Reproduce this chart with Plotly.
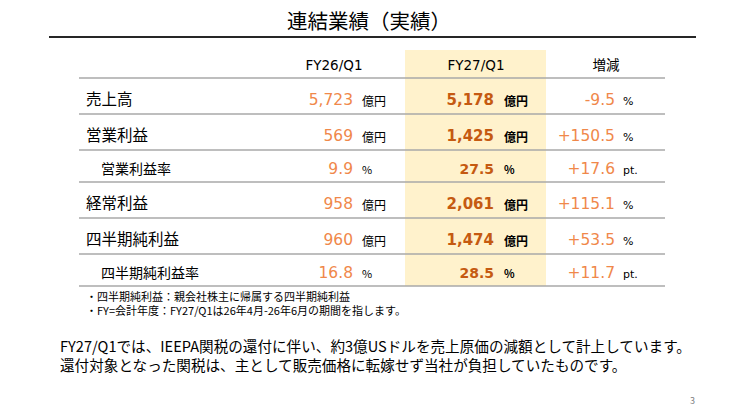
import plotly.graph_objects as go

# table data
categories = ["売上高", "営業利益", "営業利益率", "経常利益", "四半期純利益", "四半期純利益率"]
is_sub = [False, False, True, False, False, True]
fy26 = [5723, 569, 9.9, 958, 960, 16.8]
fy27 = [5178, 1425, 27.5, 2061, 1474, 28.5]
change = [-9.5, 150.5, 17.6, 115.1, 53.5, 11.7]
units = ["億円", "億円", "%", "億円", "億円", "%"]
change_units = ["%", "%", "pt.", "%", "%", "pt."]
headers = ["FY26/Q1", "FY27/Q1", "増減"]

title = "連結業績（実績）"
notes = ["・四半期純利益：親会社株主に帰属する四半期純利益",
         "・FY=会計年度：FY27/Q1は26年4月-26年6月の期間を指します。"]
comment = ["FY27/Q1では、IEEPA関税の還付に伴い、約3億USドルを売上原価の減額として計上しています。",
           "還付対象となった関税は、主として販売価格に転嫁せず当社が負担していたものです。"]

FONT = "Noto Sans CJK JP"
NUM_FONT = "DejaVu Sans, Noto Sans CJK JP"
ORANGE = "#F0884A"
DARK_ORANGE = "#C55A11"
GRID = "#A8A8A8"


def fmt_val(v, sub):
    return f"{v:.1f}" if sub else f"{v:,.0f}"


def fmt_chg(v):
    return f"{v:+.1f}"


# row geometry (pixel space, y down)
top = 78
bounds = [top]
for s in is_sub:
    bounds.append(bounds[-1] + (32 if s else 36))
row_y = [bounds[i] + (20 if s else 23) for i, s in enumerate(is_sub)]

fig = go.Figure()

# row labels
fig.add_trace(go.Scatter(
    x=[101 if s else 86 for s in is_sub], y=row_y, mode="text",
    text=categories, textposition="middle right",
    textfont=dict(family=FONT, size=[14 if s else 15.5 for s in is_sub], color="#000000"),
))

# FY26 values + units
fig.add_trace(go.Scatter(
    x=[353] * len(fy26), y=row_y, mode="text",
    text=[fmt_val(v, s) for v, s in zip(fy26, is_sub)], textposition="middle left",
    textfont=dict(family=NUM_FONT, size=15.5, color=ORANGE),
))
fig.add_trace(go.Scatter(
    x=[362] * len(units), y=[y + 1.5 for y in row_y], mode="text",
    text=units, textposition="middle right",
    textfont=dict(family=FONT, size=[11 if u == "%" else 12 for u in units], color="#000000"),
))

# FY27 values + units (bold)
fig.add_trace(go.Scatter(
    x=[494] * len(fy27), y=row_y, mode="text",
    text=[fmt_val(v, s) for v, s in zip(fy27, is_sub)], textposition="middle left",
    textfont=dict(family=NUM_FONT, size=[14 if s else 15 for s in is_sub], color=DARK_ORANGE, weight="bold"),
))
fig.add_trace(go.Scatter(
    x=[504] * len(units), y=[y + 1.5 for y in row_y], mode="text",
    text=units, textposition="middle right",
    textfont=dict(family=FONT, size=[11 if u == "%" else 12 for u in units], color="#000000", weight="bold"),
))

# change values + units
fig.add_trace(go.Scatter(
    x=[615] * len(change), y=row_y, mode="text",
    text=[fmt_chg(v) for v in change], textposition="middle left",
    textfont=dict(family=NUM_FONT, size=15.5, color=ORANGE),
))
fig.add_trace(go.Scatter(
    x=[623] * len(change_units), y=[y + 1.5 for y in row_y], mode="text",
    text=change_units, textposition="middle right",
    textfont=dict(family=NUM_FONT, size=11, color="#000000"),
))

# column headers
fig.add_trace(go.Scatter(
    x=[334, 476, 606], y=[67] * 3, mode="text",
    text=headers, textposition="middle center",
    textfont=dict(family=NUM_FONT, size=13.5, color="#000000"),
))

shapes = [
    dict(type="rect", x0=405, x1=546, y0=50, y1=bounds[-1], fillcolor="#FFF2CC",
         line=dict(width=0), layer="below"),
    dict(type="line", x0=49, x1=696, y0=37, y1=37, line=dict(color="#262626", width=2)),
]
for b in bounds:
    shapes.append(dict(type="line", x0=79, x1=665, y0=b, y1=b, line=dict(color=GRID, width=1.6)))

annotations = [
    dict(x=369, y=20, text=title, showarrow=False, xanchor="center", yanchor="middle",
         font=dict(family=FONT, size=20.5, color="#000000")),
    dict(x=692, y=400, text="3", showarrow=False, xanchor="center", yanchor="middle",
         font=dict(family=FONT, size=9, color="#7F7F7F")),
    dict(x=84, y=302.5, text="<br>".join(notes), showarrow=False, xanchor="left", align="left",
         yanchor="middle", font=dict(family=FONT, size=11, color="#000000")),
    dict(x=58, y=354.5, text="<br>".join(comment), showarrow=False, xanchor="left", align="left",
         yanchor="middle", font=dict(family=FONT, size=14.6, color="#000000")),
]

fig.update_layout(
    width=739, height=411,
    margin=dict(l=0, r=0, t=0, b=0),
    paper_bgcolor="white", plot_bgcolor="white",
    showlegend=False, hovermode=False,
    xaxis=dict(range=[0, 739], visible=False, fixedrange=True),
    yaxis=dict(range=[411, 0], visible=False, fixedrange=True),
    shapes=shapes, annotations=annotations,
)

fig.write_html("out.html", config={"displayModeBar": False},
               post_script="document.body.style.margin='0';document.body.style.overflow='hidden';")
